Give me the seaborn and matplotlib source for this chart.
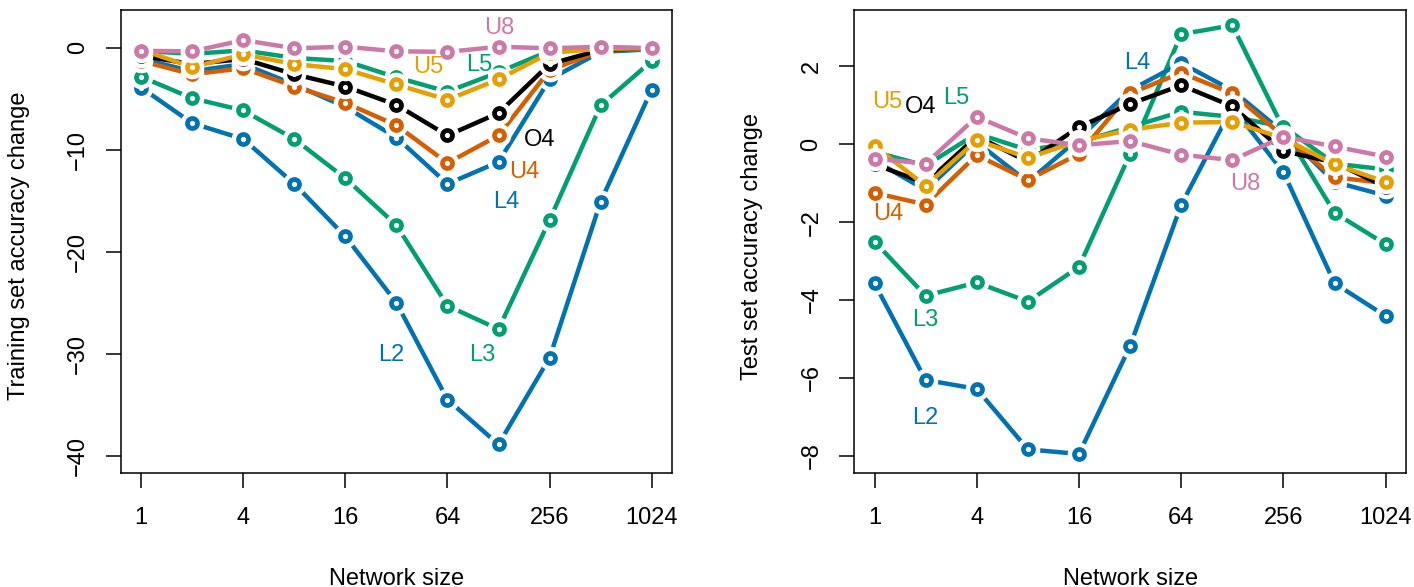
import matplotlib
matplotlib.use("Agg")
import matplotlib.pyplot as plt
import seaborn as sns

sns.set_theme(style="white")
plt.rcParams['font.family'] = ['Liberation Sans', 'DejaVu Sans']

# Network sizes (powers of two)
sizes = [1, 2, 4, 8, 16, 32, 64, 128, 256, 512, 1024]
models = ['L2', 'L3', 'L4', 'L5', 'U4', 'O4', 'U5', 'U8']

colors = {'L2': '#0072B2', 'L3': '#009E73', 'L4': '#0072B2', 'L5': '#009E73',
          'U4': '#D55E00', 'O4': '#000000', 'U5': '#E69F00', 'U8': '#CC79A7'}

# Training set accuracy change
train_L2 = [-3.9, -7.4, -8.95, -13.35, -18.5, -25.0, -34.5, -38.9, -30.4, -15.1, -4.1]
train_L3 = [-2.85, -4.95, -6.15, -8.95, -12.8, -17.4, -25.3, -27.6, -16.9, -5.65, -1.3]
train_L4 = [-1.1, -2.3, -1.6, -3.6, -5.8, -8.8, -13.35, -11.2, -3.1, -0.4, -0.15]
train_L5 = [-0.3, -0.6, -0.25, -1.0, -1.3, -2.9, -4.3, -2.4, -0.3, 0.0, -0.05]
train_U4 = [-1.3, -2.6, -2.0, -3.8, -5.4, -7.6, -11.3, -8.6, -2.2, -0.3, -0.1]
train_O4 = [-0.8, -1.6, -1.1, -2.6, -3.8, -5.6, -8.6, -6.4, -1.6, -0.2, -0.05]
train_U5 = [-0.2, -1.9, -0.65, -1.6, -2.1, -3.6, -5.1, -3.1, -0.5, -0.1, -0.05]
train_U8 = [-0.3, -0.35, 0.75, -0.05, 0.1, -0.35, -0.4, 0.1, -0.05, 0.1, -0.05]

# Test set accuracy change
test_L2 = [-3.57, -6.05, -6.28, -7.83, -7.95, -5.18, -1.56, 0.95, -0.72, -3.57, -4.41]
test_L3 = [-2.5, -3.89, -3.55, -4.04, -3.15, -0.25, 2.82, 3.05, 0.4, -1.76, -2.57]
test_L4 = [-0.42, -1.18, 0.05, -0.97, 0.15, 1.38, 2.08, 1.38, 0.3, -0.97, -1.32]
test_L5 = [-0.2, -0.55, 0.27, -0.15, 0.05, 0.44, 0.83, 0.7, 0.45, -0.5, -0.65]
test_U4 = [-1.25, -1.55, -0.28, -0.92, -0.25, 1.3, 1.83, 1.3, 0.2, -0.85, -1.0]
test_O4 = [-0.52, -1.0, 0.2, -0.45, 0.44, 1.03, 1.51, 0.97, -0.18, -0.47, -1.1]
test_U5 = [-0.05, -1.07, 0.1, -0.35, 0.08, 0.37, 0.55, 0.57, 0.15, -0.52, -0.97]
test_U8 = [-0.37, -0.5, 0.7, 0.15, -0.03, 0.08, -0.27, -0.41, 0.19, -0.06, -0.32]

train = {'L2': train_L2, 'L3': train_L3, 'L4': train_L4, 'L5': train_L5,
         'U4': train_U4, 'O4': train_O4, 'U5': train_U5, 'U8': train_U8}
test = {'L2': test_L2, 'L3': test_L3, 'L4': test_L4, 'L5': test_L5,
        'U4': test_U4, 'O4': test_O4, 'U5': test_U5, 'U8': test_U8}

# Where the series names are written (x, y in data units)
train_labels = {'U8': (130, 1.9), 'U5': (49, -1.9), 'L5': (98, -1.7),
                'O4': (223, -9.05), 'U4': (182, -12.2), 'L4': (143, -15.1),
                'L2': (30, -30.1), 'L3': (102, -30.1)}
test_labels = {'U5': (1.19, 1.08), 'O4': (1.88, 0.95), 'L5': (3.03, 1.18),
               'U4': (1.2, -1.8), 'L4': (35.3, 2.08), 'U8': (153, -1.03),
               'L3': (2.0, -4.51), 'L2': (2.0, -7.03)}

fig = plt.figure(figsize=(14.14, 5.87), dpi=100)
ax1 = fig.add_axes([0.0854, 0.1947, 0.3899, 0.7882])
ax2 = fig.add_axes([0.604, 0.1947, 0.3904, 0.7882])


def draw_panel(ax, data, labels, ylim, yticks, ylabel):
    # type="b" look: line, a white gap round each point, then an open circle
    for m in models:
        c = colors[m]
        sns.lineplot(x=sizes, y=data[m], ax=ax, color=c, linewidth=3.2,
                     legend=False)
        sns.lineplot(x=sizes, y=data[m], ax=ax, color='white', linestyle='',
                     marker='o', markersize=17, markeredgewidth=0,
                     markerfacecolor='white', legend=False)
        sns.lineplot(x=sizes, y=data[m], ax=ax, color=c, linestyle='',
                     marker='o', markersize=7.2, markeredgewidth=3.4,
                     markeredgecolor=c, markerfacecolor='none',
                     legend=False)
    for m, (x, y) in labels.items():
        ax.text(x, y, m, color=colors[m], fontsize=17, ha='center',
                va='center')
    ax.set_xscale('log', base=2)
    ax.set_xlim(2 ** -0.4, 2 ** 10.4)
    ax.set_ylim(*ylim)
    ax.set_xticks([1, 4, 16, 64, 256, 1024])
    ax.set_xticklabels(['1', '4', '16', '64', '256', '1024'])
    ax.xaxis.set_minor_locator(plt.NullLocator())
    ax.set_yticks(yticks)
    ax.set_yticklabels([str(t).replace('-', '\u2212') for t in yticks],
                       rotation=90, va='center')
    ax.tick_params(axis='both', which='major', direction='out', length=10.8,
                   width=1.1, color='black', labelsize=17, labelcolor='black',
                   bottom=True, left=True)
    ax.tick_params(axis='x', pad=14)
    ax.tick_params(axis='y', pad=12)
    for s in ax.spines.values():
        s.set_color('black')
        s.set_linewidth(1.1)
    ax.set_xlabel('Network size', fontsize=17, color='black')
    ax.set_ylabel(ylabel, fontsize=17, color='black')
    ax.xaxis.set_label_coords(0.5, -0.205)
    ax.yaxis.set_label_coords(-0.165, 0.49)


draw_panel(ax1, train, train_labels, (-41.67, 3.7), [0, -10, -20, -30, -40],
           'Training set accuracy change')
draw_panel(ax2, test, test_labels, (-8.43, 3.44), [2, 0, -2, -4, -6, -8],
           'Test set accuracy change')

fig.savefig('out.png', dpi=100)
